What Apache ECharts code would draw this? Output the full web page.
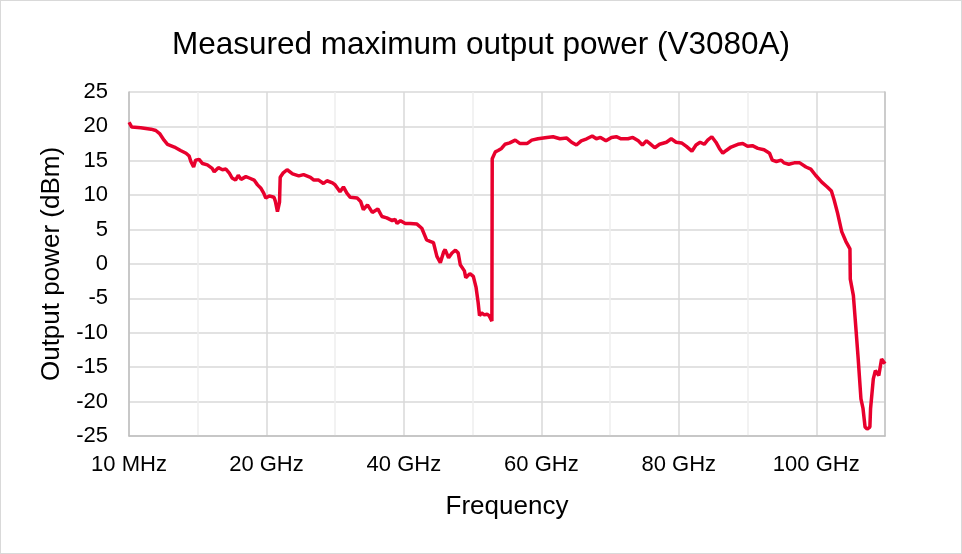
<!DOCTYPE html>
<html>
<head>
<meta charset="utf-8">
<title>Measured maximum output power (V3080A)</title>
<script src="https://cdn.jsdelivr.net/npm/echarts@6.0.0/dist/echarts.min.js"></script>
<style>
  html, body { margin: 0; padding: 0; background: #ffffff; }
  #chart { width: 962px; height: 554px; box-sizing: border-box; border: 1px solid #d9d9d9; }
</style>
</head>
<body>
<div id="chart"></div>
<script>
// frequency in GHz (0 = 10 MHz start)
var freq = [
  0.01, 0.4, 1.7, 3.2, 3.9, 4.5, 5.1, 5.6, 6.6, 7.5, 8.3, 8.75, 9.0, 9.4, 9.7, 10.2,
  10.7, 11.4, 12.1, 12.4, 13.0, 13.6, 14.1, 14.6, 15.0, 15.5, 15.9, 16.3, 17.0, 17.5,
  18.2, 18.7, 19.2, 19.6, 19.9, 20.4, 21.1, 21.3, 21.6, 21.9, 22.0, 22.4, 23.0, 23.8,
  24.7, 25.4, 26.4, 26.9, 27.6, 28.3, 28.8, 29.6, 30.0, 30.7, 31.2, 31.7, 32.2, 33.2,
  33.7, 34.1, 34.7, 35.4, 36.2, 36.8, 37.5, 38.3, 38.7, 39.0, 39.5, 40.2, 40.9, 41.9,
  42.6, 43.3, 43.8, 44.3, 44.8, 45.3, 45.8, 46.0, 46.5, 47.0, 47.5, 47.9, 48.2, 48.8,
  49.0, 49.6, 50.1, 50.5, 50.8, 51.0, 51.3, 51.7, 52.1, 52.4, 52.8, 52.85, 53.3, 53.7,
  54.2, 54.7, 55.4, 56.2, 56.9, 57.9, 58.6, 59.5, 60.8, 61.7, 62.7, 63.7, 64.4, 65.1,
  65.8, 66.6, 67.4, 68.0, 68.6, 69.4, 70.2, 70.9, 71.6, 72.6, 73.3, 74.1, 74.7, 75.3,
  75.8, 76.5, 77.2, 78.2, 78.9, 79.6, 80.4, 81.1, 81.9, 82.5, 83.1, 83.7, 84.2, 84.8,
  85.4, 85.9, 86.4, 86.9, 87.6, 88.6, 89.3, 90.0, 90.7, 91.5, 92.4, 93.2, 93.6, 94.2,
  94.9, 95.3, 96.0, 96.8, 97.6, 98.5, 99.2, 99.9, 100.8, 101.6, 102.2, 102.6, 103.1,
  103.7, 104.3, 104.9, 104.95, 105.4, 105.7, 106.1, 106.5, 106.8, 107.1, 107.4, 107.8,
  107.9, 108.3, 108.6, 109.1, 109.5, 110.0
];
// output power in dBm
var power = [
  20.6, 19.9, 19.8, 19.6, 19.4, 18.9, 18.0, 17.4, 17.0, 16.5, 16.1, 15.7, 14.9, 14.1, 15.1, 15.2,
  14.6, 14.4, 13.9, 13.4, 14.0, 13.7, 13.8, 13.2, 12.5, 12.2, 12.9, 12.3, 12.7, 12.5,
  12.2, 11.5, 11.0, 10.3, 9.6, 9.9, 9.7, 9.1, 7.6, 9.0, 12.6, 13.2, 13.7, 13.1,
  12.8, 13.0, 12.6, 12.2, 12.2, 11.7, 12.1, 11.8, 11.5, 10.5, 11.2, 10.3, 9.7, 9.6,
  9.1, 7.9, 8.6, 7.5, 8.0, 6.9, 6.7, 6.3, 6.5, 5.9, 6.3, 5.9, 5.9, 5.8,
  5.2, 3.5, 3.3, 3.1, 1.1, 0.2, 1.8, 2.1, 0.9, 1.6, 2.0, 1.6, -0.1, -1.0,
  -2.0, -1.4, -1.8, -3.4, -5.6, -7.5, -7.1, -7.4, -7.3, -7.5, -8.3, 15.3, 16.3, 16.5,
  16.8, 17.4, 17.6, 18.0, 17.5, 17.5, 18.0, 18.2, 18.4, 18.5, 18.2, 18.3, 17.7, 17.3,
  17.9, 18.2, 18.6, 18.2, 18.4, 17.9, 18.4, 18.5, 18.2, 18.2, 18.4, 17.9, 17.3, 17.9,
  17.5, 16.9, 17.4, 17.7, 18.2, 17.7, 17.6, 17.1, 16.4, 17.3, 17.7, 17.4, 18.0, 18.5,
  17.7, 16.8, 16.1, 16.5, 17.0, 17.4, 17.5, 17.1, 17.2, 16.8, 16.6, 16.1, 15.1, 14.9,
  15.1, 14.7, 14.5, 14.7, 14.7, 14.1, 13.8, 12.9, 11.9, 11.2, 10.6, 9.3, 7.4,
  4.7, 3.3, 2.2, -2.2, -4.6, -8.5, -13.8, -19.6, -21.0, -23.7, -24.0, -23.7,
  -21.0, -16.7, -15.5, -16.2, -13.8, -14.5
];
var xTicks = [0, 20, 40, 60, 80, 100];
var xTickLabels = ['10 MHz', '20 GHz', '40 GHz', '60 GHz', '80 GHz', '100 GHz'];

var chart = echarts.init(document.getElementById('chart'));

var points = [];
for (var i = 0; i < freq.length; i++) {
  points.push([freq[i], power[i]]);
}

var font = 'Liberation Sans, Arial, sans-serif';

var option = {
  backgroundColor: '#ffffff',
  animation: false,
  title: {
    text: 'Measured maximum output power (V3080A)',
    left: 'center',
    top: 23,
    textStyle: { fontFamily: font, fontSize: 31.5, fontWeight: 'normal', color: '#000' }
  },
  grid: { left: 128, right: 76, top: 91, bottom: 117 },
  xAxis: [{
    type: 'value',
    min: 0,
    max: 110,
    interval: 10,
    name: 'Frequency',
    nameLocation: 'middle',
    nameGap: 58,
    nameTextStyle: { fontFamily: font, fontSize: 26, color: '#000' },
    axisLine: { show: true, onZero: false, lineStyle: { color: '#bfbfbf', width: 1.5 } },
    axisTick: { show: false },
    axisLabel: {
      fontFamily: font, fontSize: 22, color: '#000', margin: 18,
      formatter: function (v) {
        var k = xTicks.indexOf(v);
        return k >= 0 ? xTickLabels[k] : '';
      }
    },
    splitLine: { show: true, lineStyle: { color: ['#d9d9d9', '#eeeeee'], width: 1.5 } }
  }],
  yAxis: [{
    type: 'value',
    min: -25,
    max: 25,
    interval: 5,
    name: 'Output power (dBm)',
    nameLocation: 'middle',
    nameGap: 62,
    nameTextStyle: { fontFamily: font, fontSize: 26, color: '#000' },
    axisLine: { show: true, onZero: false, lineStyle: { color: '#bfbfbf', width: 1.5 } },
    axisTick: { show: false },
    axisLabel: { fontFamily: font, fontSize: 22, color: '#000', margin: 21 },
    splitLine: { show: true, lineStyle: { color: '#d9d9d9', width: 1.5 } }
  }, {
    type: 'value',
    position: 'right',
    min: -25,
    max: 25,
    interval: 5,
    axisLine: { show: true, onZero: false, lineStyle: { color: '#bfbfbf', width: 1.5 } },
    axisTick: { show: false },
    axisLabel: { show: false },
    splitLine: { show: false }
  }],
  series: [{
    name: 'Output power',
    type: 'line',
    data: points,
    showSymbol: false,
    smooth: false,
    lineStyle: { color: '#e8002d', width: 3.5 },
    itemStyle: { color: '#e8002d' }
  }]
};

chart.setOption(option);
</script>
</body>
</html>
